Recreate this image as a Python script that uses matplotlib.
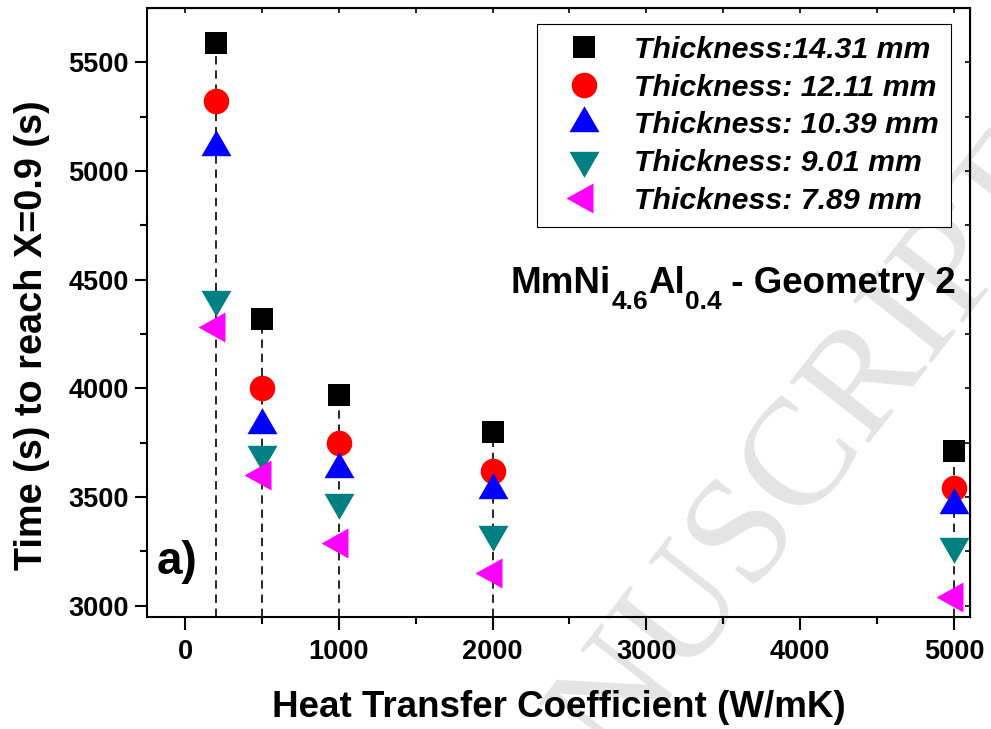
import numpy as np
import matplotlib.pyplot as plt
from matplotlib.path import Path
from matplotlib.ticker import MultipleLocator

plt.rcParams['font.family'] = 'Liberation Sans'
plt.rcParams['font.weight'] = 'bold'

# %% Data: time to reach X=0.9 (s) vs heat transfer coefficient (W/mK)
h = [200, 500, 1000, 2000, 5000]
t_1431 = [5590, 4320, 3970, 3800, 3710]
t_1211 = [5320, 4000, 3750, 3620, 3540]
t_1039 = [5110, 3830, 3630, 3530, 3465]
t_901 = [4410, 3700, 3475, 3330, 3275]
t_789 = [4280, 3600, 3290, 3150, 3040]
labels = ['Thickness:14.31 mm', 'Thickness: 12.11 mm', 'Thickness: 10.39 mm',
          'Thickness: 9.01 mm', 'Thickness: 7.89 mm']


# triangles centred on their centroid (Origin style)
def tri(verts):
    v = np.array(verts, float)
    codes = [Path.MOVETO, Path.LINETO, Path.LINETO, Path.CLOSEPOLY]
    return Path(np.vstack([v, v[:1]]), codes)


tri_up = tri([(0, 17.3), (-15, -8.7), (15, -8.7)])
tri_dn = tri([(0, -17.3), (-15, 8.7), (15, 8.7)])
tri_lf = tri([(-18, 0), (9, 15), (9, -15)])

series = [
    (t_1431, 's', 'black', 15.8),
    (t_1211, 'o', 'red', 18.4),
    (t_1039, tri_up, 'blue', 24.9),
    (t_901, tri_dn, '#008080', 24.9),
    (t_789, tri_lf, 'magenta', 25.9),
]

fig, ax = plt.subplots(figsize=(9.91, 7.29), dpi=100)
fig.subplots_adjust(left=0.1483, right=0.9788, bottom=0.1536, top=0.989)
ax.set_facecolor('none')

ax.set_xlim(-247, 5104)
ax.set_ylim(2948, 5749)

# dashed drop lines from the top point of each group
top = [max(v) for v in zip(t_1431, t_1211, t_1039, t_901, t_789)]
ax.vlines(h, 2948, top, colors='black', linestyles=(0, (5, 3.5)), lw=1.2, zorder=1)

for (y, m, c, ms), lab in zip(series, labels):
    ax.plot(h, y, linestyle='none', marker=m, color=c, ms=ms, mew=0, label=lab, zorder=3)

# axes / ticks
for s in ax.spines.values():
    s.set_linewidth(1.5)
ax.xaxis.set_major_locator(MultipleLocator(1000))
ax.xaxis.set_minor_locator(MultipleLocator(500))
ax.yaxis.set_major_locator(MultipleLocator(500))
ax.yaxis.set_minor_locator(MultipleLocator(250))
ax.tick_params(axis='x', which='major', direction='out', length=9, width=1.5,
               labelsize=19.5, pad=6.5)
ax.tick_params(axis='y', which='major', direction='out', length=9, width=1.5,
               labelsize=19.5, pad=4)
ax.tick_params(which='minor', direction='out', length=4.7, width=1.5)

secx = ax.secondary_xaxis('top')
secx.xaxis.set_major_locator(MultipleLocator(500))
secx.tick_params(direction='in', length=3.5, width=1.2, labeltop=False)
secy = ax.secondary_yaxis('right')
secy.yaxis.set_major_locator(MultipleLocator(250))
secy.tick_params(direction='in', length=3.5, width=1.2, labelright=False)

ax.set_xlabel('Heat Transfer Coefficient (W/mK)', fontsize=26.5, fontweight='bold')
ax.set_ylabel('Time (s) to reach X=0.9 (s)', fontsize=27.3, fontweight='bold')
ax.xaxis.set_label_coords(0.5, -0.12)
ax.yaxis.set_label_coords(-0.118, 0.463)

leg = ax.legend(loc='upper right', bbox_to_anchor=(0.977, 0.974), borderaxespad=0,
                prop={'family': 'Liberation Sans', 'style': 'italic', 'weight': 'bold', 'size': 21.8},
                handlelength=2.3, handletextpad=0.52, labelspacing=0.32, borderpad=0.4,
                numpoints=1, fancybox=False, framealpha=1, edgecolor='black')
leg.get_frame().set_linewidth(0.8)

# compound label with lowered subscripts, pieces chained left to right
t1 = ax.text(0.4423, 0.532, 'MmNi', transform=ax.transAxes, ha='left', va='baseline',
             fontsize=26.5, fontweight='bold')
parts = [('4.6', 19, -9.3), ('Al', 26.5, 9.3), ('0.4', 19, -9.3), (' - Geometry 2', 26.5, 9.3)]
prev = t1
for txt, fs, dy in parts:
    prev = ax.annotate(txt, xy=(1, 0), xycoords=prev, xytext=(0, dy),
                       textcoords='offset points', ha='left', va='bottom',
                       fontsize=fs, fontweight='bold')

ax.text(0.012, 0.0706, 'a)', transform=ax.transAxes, ha='left', va='baseline',
        fontsize=33, fontweight='bold')

# light stamp behind the plot
fig.text(1.08, 0.745, 'ACCEPTED MANUSCRIPT', rotation=52, rotation_mode='anchor',
         ha='right', va='baseline', fontsize=110, family='Liberation Serif',
         fontweight='normal', color='#e4e4e4', zorder=-1)

fig.savefig('out.png', dpi=100)
